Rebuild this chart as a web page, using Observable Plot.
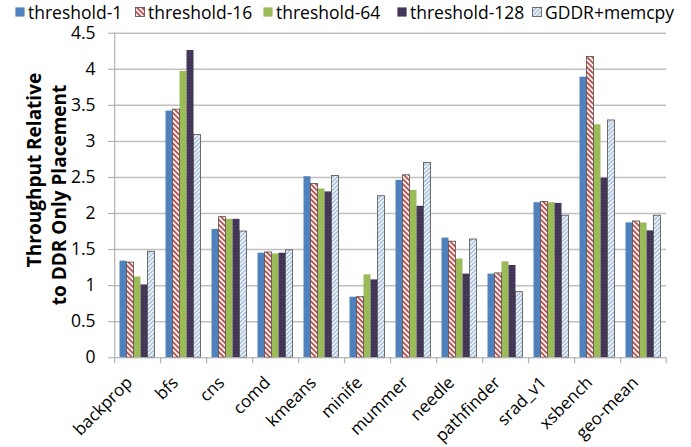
<!DOCTYPE html>
<html><head><meta charset="utf-8">
<script src="https://cdn.jsdelivr.net/npm/d3@7"></script>
<script src="https://cdn.jsdelivr.net/npm/@observablehq/plot@0.6"></script>
<style>
body{margin:0;background:#fff;font-family:"Open Sans",sans-serif;}
#wrap{position:relative;width:691px;height:447px;}
#legend{position:absolute;left:0;top:0;width:691px;height:24px;font-size:17.5px;line-height:24px;color:#000;z-index:2;}
.item{position:absolute;top:0;height:24px;display:flex;align-items:center;white-space:nowrap;}
.sw{width:10px;height:10px;margin-right:3px;display:block;}
</style></head>
<body>
<svg width="0" height="0" style="position:absolute">
<defs>
<pattern id="p16" patternUnits="userSpaceOnUse" width="3.6" height="3.6" patternTransform="rotate(-45)">
<rect width="3.6" height="3.6" fill="#fff"/><rect width="1.9" height="3.6" fill="#C0504D"/>
</pattern>
<pattern id="p128" patternUnits="userSpaceOnUse" width="3" height="3">
<rect width="3" height="3" fill="#3F3151"/><rect x="0.5" y="0.5" width="0.9" height="0.9" fill="#7B6C96"/>
</pattern>
<pattern id="pg" patternUnits="userSpaceOnUse" width="3" height="3" patternTransform="rotate(45)">
<rect width="3" height="3" fill="#fff"/><rect width="1.4" height="3" fill="#95B3D7"/>
</pattern>
</defs>
</svg>
<div id="wrap"><div id="legend"></div><div id="chart"></div></div>
<script>
const categories = ["backprop","bfs","cns","comd","kmeans","minife","mummer","needle","pathfinder","srad_v1","xsbench","geo-mean"];
const series = ["threshold-1","threshold-16","threshold-64","threshold-128","GDDR+memcpy"];
const threshold1   = [1.34,3.42,1.78,1.45,2.51,0.84,2.46,1.66,1.16,2.15,3.89,1.87];
const threshold16  = [1.32,3.44,1.95,1.46,2.41,0.84,2.53,1.61,1.17,2.16,4.17,1.89];
const threshold64  = [1.12,3.97,1.92,1.44,2.34,1.15,2.32,1.37,1.33,2.15,3.23,1.87];
const threshold128 = [1.01,4.26,1.92,1.45,2.30,1.08,2.10,1.16,1.28,2.14,2.49,1.76];
const gddrMemcpy   = [1.47,3.09,1.75,1.49,2.52,2.24,2.70,1.64,0.91,1.97,3.29,1.97];
const yTicks = [0,0.5,1,1.5,2,2.5,3,3.5,4,4.5];
const yTitle = ["Throughput Relative","to DDR Only Placement"];

const values = [threshold1, threshold16, threshold64, threshold128, gddrMemcpy];
const fills = ["#4F81BD","url(#p16)","#9BBB59","url(#p128)","url(#pg)"];
const bordered = new Set(["threshold-16","GDDR+memcpy"]);
const table = [];
categories.forEach((c,i)=>series.forEach((s,j)=>table.push({cat:c, series:s, value:values[j][i]})));

// legend
const legendX = [15,135,263,397,532];
const leg = document.getElementById("legend");
series.forEach((s,j)=>{
  const it = document.createElement("div");
  it.className="item"; it.style.left = legendX[j]+"px";
  const border = bordered.has(s) ? 'stroke="#4d4d4d" stroke-width="0.8"' : '';
  it.innerHTML = `<svg class="sw" width="10" height="10"><rect x="0.4" y="0.4" width="9.2" height="9.2" fill="${fills[j]}" ${border}/></svg><span>${s}</span>`;
  leg.appendChild(it);
});

const W=691, H=447, ML=111.5, MR=23, MT=32.7, MB=89.7;
const pOuter = 0.71;
const fxStep = (W-ML-MR)/categories.length;
const xStep = fxStep/(series.length+2*pOuter);
const edge = pOuter*xStep + xStep/2;
const tickLen = 6/((H-MT-MB)/4.5);
const last = categories[categories.length-1];

const chart = Plot.plot({
  width:W, height:H, marginLeft:ML, marginRight:MR, marginTop:MT, marginBottom:MB,
  style:{fontFamily:"'Open Sans', sans-serif", background:"transparent", color:"#000"},
  fx:{domain:categories, padding:0, label:null, axis:null},
  x:{domain:series, paddingInner:0, paddingOuter:pOuter, axis:null},
  y:{domain:[0,4.5], label:null, axis:null},
  color:{domain:series, range:fills},
  marks:[
    Plot.ruleY(yTicks.filter(d=>d>0), {stroke:"#bfbfbf", strokeWidth:1.5}),
    Plot.barY(table, {fx:"cat", x:"series", y:"value", fill:"series"}),
    Plot.barY(table.filter(d=>bordered.has(d.series)), {fx:"cat", x:"series", y:"value", fill:"none", stroke:"#4d4d4d", strokeWidth:0.8}),
    Plot.ruleY([0], {stroke:"#a6a6a6", strokeWidth:1}),
    Plot.ruleX([{c:categories[0]}], {fx:"c", x:()=>series[0], dx:-edge, y1:0, y2:4.5, stroke:"#a6a6a6"}),
    Plot.ruleX(categories.map(c=>({c})), {fx:"c", x:()=>series[0], dx:-edge, y1:0, y2:-tickLen, stroke:"#a6a6a6"}),
    Plot.ruleX([{c:last}], {fx:"c", x:()=>series[series.length-1], dx:edge, y1:0, y2:-tickLen, stroke:"#a6a6a6"}),
    Plot.axisY(yTicks, {tickFormat:d=>String(d), tickSize:6, tickPadding:13, stroke:"#a6a6a6", fill:"#000", fontSize:17.5, label:null}),
    Plot.axisFx({anchor:"bottom", tickSize:0, tickRotate:-45, tickPadding:10, dx:-8, dy:12, fontSize:17, fill:"#000", label:null})
  ]
});
document.getElementById("chart").appendChild(chart);
const svg = d3.select(chart.tagName.toLowerCase()==="svg" ? chart : chart.querySelector("svg"));
const tpos = [[41,170],[66,195]];
yTitle.forEach((t,i)=>{
  svg.append("text")
    .attr("transform",`translate(${tpos[i][0]},${tpos[i][1]}) rotate(-90)`)
    .attr("text-anchor","middle")
    .attr("font-family","'Open Sans', sans-serif")
    .attr("font-weight","bold")
    .attr("font-size",19)
    .attr("fill","#000")
    .text(t);
});
</script>
</body></html>
